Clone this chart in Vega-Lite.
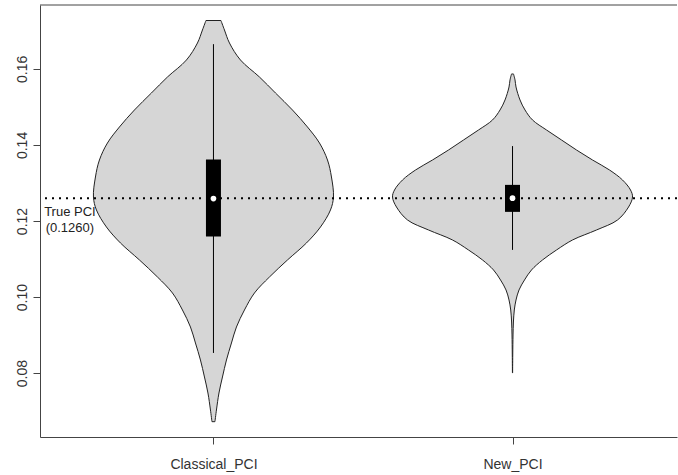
{
  "$schema": "https://vega.github.io/schema/vega-lite/v6.json",
  "autosize": {"type": "none"},
  "width": 637,
  "height": 432,
  "padding": {"left": 40, "top": 5, "right": 1, "bottom": 38},
  "background": "white",
  "config": {"view": {"stroke": null}, "axis": {"grid": false, "title": null}},
  "datasets": {
    "violin": [
      {"g": "Classical_PCI", "v": 0.17272, "xl": 0.9749, "xr": 1.0251},
      {"g": "Classical_PCI", "v": 0.17023, "xl": 0.9632, "xr": 1.0368},
      {"g": "Classical_PCI", "v": 0.16681, "xl": 0.9465, "xr": 1.0535},
      {"g": "Classical_PCI", "v": 0.16234, "xl": 0.9097, "xr": 1.0903},
      {"g": "Classical_PCI", "v": 0.15787, "xl": 0.8462, "xr": 1.1538},
      {"g": "Classical_PCI", "v": 0.15366, "xl": 0.7926, "xr": 1.2074},
      {"g": "Classical_PCI", "v": 0.14919, "xl": 0.7358, "xr": 1.2642},
      {"g": "Classical_PCI", "v": 0.14472, "xl": 0.6856, "xr": 1.3144},
      {"g": "Classical_PCI", "v": 0.14051, "xl": 0.6455, "xr": 1.3545},
      {"g": "Classical_PCI", "v": 0.13604, "xl": 0.6187, "xr": 1.3813},
      {"g": "Classical_PCI", "v": 0.13157, "xl": 0.6054, "xr": 1.3946},
      {"g": "Classical_PCI", "v": 0.12631, "xl": 0.5987, "xr": 1.4013},
      {"g": "Classical_PCI", "v": 0.12290, "xl": 0.6087, "xr": 1.3913},
      {"g": "Classical_PCI", "v": 0.11843, "xl": 0.6421, "xr": 1.3579},
      {"g": "Classical_PCI", "v": 0.11422, "xl": 0.6890, "xr": 1.3110},
      {"g": "Classical_PCI", "v": 0.10975, "xl": 0.7525, "xr": 1.2475},
      {"g": "Classical_PCI", "v": 0.10528, "xl": 0.8127, "xr": 1.1873},
      {"g": "Classical_PCI", "v": 0.10107, "xl": 0.8629, "xr": 1.1371},
      {"g": "Classical_PCI", "v": 0.09660, "xl": 0.8963, "xr": 1.1037},
      {"g": "Classical_PCI", "v": 0.09213, "xl": 0.9231, "xr": 1.0769},
      {"g": "Classical_PCI", "v": 0.08792, "xl": 0.9398, "xr": 1.0602},
      {"g": "Classical_PCI", "v": 0.08345, "xl": 0.9565, "xr": 1.0435},
      {"g": "Classical_PCI", "v": 0.07898, "xl": 0.9699, "xr": 1.0301},
      {"g": "Classical_PCI", "v": 0.07477, "xl": 0.9816, "xr": 1.0184},
      {"g": "Classical_PCI", "v": 0.07030, "xl": 0.9900, "xr": 1.0100},
      {"g": "Classical_PCI", "v": 0.06723, "xl": 0.9950, "xr": 1.0050},
      {"g": "New_PCI", "v": 0.15866, "xl": 1.9967, "xr": 2.0033},
      {"g": "New_PCI", "v": 0.15708, "xl": 1.9916, "xr": 2.0084},
      {"g": "New_PCI", "v": 0.15524, "xl": 1.9883, "xr": 2.0117},
      {"g": "New_PCI", "v": 0.15182, "xl": 1.9749, "xr": 2.0251},
      {"g": "New_PCI", "v": 0.14919, "xl": 1.9582, "xr": 2.0418},
      {"g": "New_PCI", "v": 0.14656, "xl": 1.9331, "xr": 2.0669},
      {"g": "New_PCI", "v": 0.14393, "xl": 1.8863, "xr": 2.1137},
      {"g": "New_PCI", "v": 0.14130, "xl": 1.8361, "xr": 2.1639},
      {"g": "New_PCI", "v": 0.13867, "xl": 1.7860, "xr": 2.2140},
      {"g": "New_PCI", "v": 0.13604, "xl": 1.7324, "xr": 2.2676},
      {"g": "New_PCI", "v": 0.13341, "xl": 1.6756, "xr": 2.3244},
      {"g": "New_PCI", "v": 0.13078, "xl": 1.6321, "xr": 2.3679},
      {"g": "New_PCI", "v": 0.12815, "xl": 1.6054, "xr": 2.3946},
      {"g": "New_PCI", "v": 0.12631, "xl": 1.5987, "xr": 2.4013},
      {"g": "New_PCI", "v": 0.12368, "xl": 1.6120, "xr": 2.3880},
      {"g": "New_PCI", "v": 0.12027, "xl": 1.6488, "xr": 2.3512},
      {"g": "New_PCI", "v": 0.11764, "xl": 1.7191, "xr": 2.2809},
      {"g": "New_PCI", "v": 0.11501, "xl": 1.7993, "xr": 2.2007},
      {"g": "New_PCI", "v": 0.11238, "xl": 1.8528, "xr": 2.1472},
      {"g": "New_PCI", "v": 0.10975, "xl": 1.8997, "xr": 2.1003},
      {"g": "New_PCI", "v": 0.10712, "xl": 1.9365, "xr": 2.0635},
      {"g": "New_PCI", "v": 0.10449, "xl": 1.9599, "xr": 2.0401},
      {"g": "New_PCI", "v": 0.10186, "xl": 1.9783, "xr": 2.0217},
      {"g": "New_PCI", "v": 0.09923, "xl": 1.9883, "xr": 2.0117},
      {"g": "New_PCI", "v": 0.09660, "xl": 1.9940, "xr": 2.0060},
      {"g": "New_PCI", "v": 0.09344, "xl": 1.9970, "xr": 2.0030},
      {"g": "New_PCI", "v": 0.09003, "xl": 1.9983, "xr": 2.0017},
      {"g": "New_PCI", "v": 0.08477, "xl": 1.9992, "xr": 2.0008},
      {"g": "New_PCI", "v": 0.08003, "xl": 1.9997, "xr": 2.0003}
    ],
    "stats": [
      {"g": "Classical_PCI", "c": 1, "lw": 0.0853, "q1": 0.1159, "med": 0.1259, "q3": 0.1362, "uw": 0.1665},
      {"g": "New_PCI", "c": 2, "lw": 0.1124, "q1": 0.1224, "med": 0.1260, "q3": 0.1295, "uw": 0.1397}
    ],
    "ann": [
      {"x": 0.52, "y": 0.12237, "label": "True PCI"},
      {"x": 0.52, "y": 0.11829, "label": "(0.1260)"}
    ],
    "ref": [
      {"truth": 0.126, "top": 0.1768}
    ]
  },
  "layer": [
    {
      "data": {"name": "violin"},
      "mark": {"type": "area", "orient": "horizontal", "interpolate": "catmull-rom", "fill": "#d6d6d6", "stroke": "#222222", "strokeWidth": 1},
      "encoding": {
        "y": {"field": "v", "type": "quantitative", "scale": {"domain": [0.0632, 0.1768], "nice": false, "zero": false},
          "axis": {"values": [0.08, 0.10, 0.12, 0.14, 0.16], "format": ".2f", "title": null, "grid": false,
            "labelAngle": 270, "labelAlign": "center", "labelBaseline": "alphabetic", "tickSize": 7, "labelPadding": 7,
            "domainColor": "#444444", "tickColor": "#444444", "labelColor": "#333333", "labelFont": "Liberation Sans", "labelFontSize": 14, "labelOverlap": false}},
        "x": {"field": "xl", "type": "quantitative", "scale": {"domain": [0.42, 2.55], "nice": false, "zero": false},
          "axis": {"values": [1, 2], "labelExpr": "datum.value == 1 ? 'Classical_PCI' : 'New_PCI'", "title": null, "grid": false,
            "tickSize": 7, "labelPadding": 13, "labelBaseline": "top",
            "domainColor": "#444444", "tickColor": "#444444", "labelColor": "#333333", "labelFont": "Liberation Sans", "labelFontSize": 14}},
        "x2": {"field": "xr"},
        "detail": {"field": "g"}
      }
    },
    {
      "data": {"name": "ref"},
      "mark": {"type": "rule", "color": "#000000", "strokeWidth": 2, "strokeDash": [2, 5]},
      "encoding": {"y": {"field": "truth", "type": "quantitative", "axis": {"title": null}}}
    },
    {
      "data": {"name": "ref"},
      "mark": {"type": "rule", "color": "#444444", "strokeWidth": 1},
      "encoding": {"y": {"field": "top", "type": "quantitative", "axis": {"title": null}}}
    },
    {
      "data": {"name": "stats"},
      "mark": {"type": "rule", "color": "#000000", "strokeWidth": 1},
      "encoding": {
        "x": {"field": "c", "type": "quantitative", "axis": {"title": null}},
        "y": {"field": "lw", "type": "quantitative", "axis": {"title": null}},
        "y2": {"field": "uw"}
      }
    },
    {
      "data": {"name": "stats"},
      "mark": {"type": "rule", "color": "#000000", "strokeWidth": 15, "strokeCap": "butt"},
      "encoding": {
        "x": {"field": "c", "type": "quantitative", "axis": {"title": null}},
        "y": {"field": "q1", "type": "quantitative", "axis": {"title": null}},
        "y2": {"field": "q3"}
      }
    },
    {
      "data": {"name": "stats"},
      "mark": {"type": "point", "shape": "circle", "filled": true, "fill": "#ffffff", "opacity": 1, "size": 32, "strokeWidth": 0},
      "encoding": {
        "x": {"field": "c", "type": "quantitative", "axis": {"title": null}},
        "y": {"field": "med", "type": "quantitative", "axis": {"title": null}}
      }
    },
    {
      "data": {"name": "ann"},
      "mark": {"type": "text", "align": "center", "baseline": "middle", "font": "Liberation Sans", "fontSize": 13, "color": "#222222"},
      "encoding": {
        "x": {"field": "x", "type": "quantitative", "axis": {"title": null}},
        "y": {"field": "y", "type": "quantitative", "axis": {"title": null}},
        "text": {"field": "label"}
      }
    }
  ]
}
